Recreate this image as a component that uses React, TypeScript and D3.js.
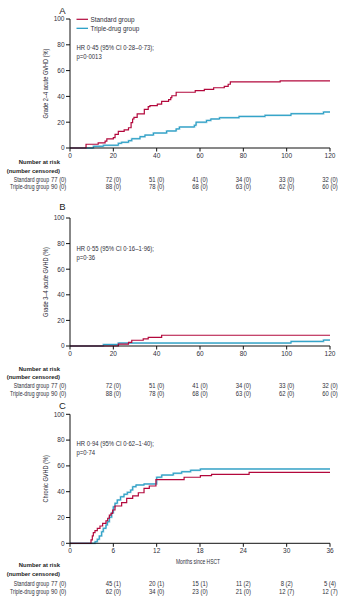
import React from "react";
import * as d3 from "d3";

const xTicksAB = [0, 20, 40, 60, 80, 100, 120];
const xTicksC = [0, 6, 12, 18, 24, 30, 36];
const yTicks = [0, 20, 40, 60, 80, 100];

const standardA: [number, number][] = [
  [7.4, 2.9], [13, 3.9], [16.2, 5.4], [17, 7], [20, 8], [20.8, 10.6], [22.3, 12.9],
  [25, 14], [27, 15.7], [28.2, 19.6], [28.9, 22.5], [29.5, 23.8], [31, 26.4],
  [34.3, 30], [36.1, 32], [36.9, 32.8], [40.3, 34], [42.3, 36.2], [45.5, 37.5],
  [46.5, 39], [47, 40.5], [49, 43.2], [57.8, 44.4], [62, 45.5], [66.3, 46.7],
  [71.2, 47.8], [73, 49.4], [74, 51.2], [97, 52],
];
const tripleA: [number, number][] = [
  [10.8, 1.3], [15.4, 2.1], [22.3, 3.6], [23.8, 4.4], [27, 5.7], [28.5, 7.2],
  [32.3, 8.8], [34.6, 10], [38.5, 11.6], [44.6, 13.2], [49, 14.8], [50.5, 16.3],
  [57.4, 17.6], [58.2, 20], [63, 21.4], [65, 22.5], [69, 23.5], [78, 24.5],
  [90, 25.3], [102, 26.6], [117, 27.9],
];
const standardB: [number, number][] = [
  [22.3, 1.5], [27, 2.8], [28.5, 4.5], [33.8, 5.5], [36.1, 6.8], [42.3, 8.4],
];
const tripleB: [number, number][] = [
  [15.4, 1.1], [22.3, 2.3], [102, 3.6], [117, 4.6],
];
const standardC: [number, number][] = [
  [2.91, 2.6], [3.09, 5.7], [3.23, 8.3], [3.46, 9.8], [3.78, 11.6], [4.15, 13.4],
  [4.52, 15.5], [4.98, 17.5], [5.22, 19.4], [5.45, 21.9], [5.68, 23.2], [5.91, 25.8],
  [6.23, 28.9], [7.15, 31.5], [7.85, 34.9], [8.68, 36.7], [9.46, 39.2], [10.25, 42.6],
  [10.98, 44.4], [11.9, 49.4], [15.8, 51.2], [18.05, 52.4], [19.6, 53.5], [24.8, 55],
];
const tripleC: [number, number][] = [
  [3.46, 1.2], [3.78, 3.1], [4.06, 5.7], [4.38, 9], [4.61, 11.6], [4.98, 14.2],
  [5.17, 16.7], [5.45, 20.2], [5.77, 23.7], [6.0, 28.4], [6.23, 31], [6.55, 33.6],
  [7.0, 36.1], [7.48, 38], [7.94, 39.5], [8.4, 41.3], [8.68, 43.9], [9.14, 45.2],
  [10.25, 46], [12.0, 51.2], [12.7, 52.9], [14.3, 54.3], [15.46, 55.5], [16.7, 56.6],
  [18.05, 57.6],
];

const riskStdAB = ["77 (0)", "72 (0)", "51 (0)", "41 (0)", "34 (0)", "33 (0)", "32 (0)"];
const riskTriAB = ["90 (0)", "88 (0)", "78 (0)", "68 (0)", "63 (0)", "62 (0)", "60 (0)"];
const riskStdC = ["77 (0)", "45 (1)", "20 (1)", "15 (1)", "11 (2)", "8 (2)", "5 (4)"];
const riskTriC = ["90 (0)", "62 (0)", "34 (0)", "23 (0)", "21 (0)", "12 (7)", "12 (7)"];

const groupNames = ["Standard group", "Triple-drug group"];

const FONT = "'Liberation Sans', Arial, sans-serif";
const RED = "#b3083c";
const TEAL = "#1898c2";
const TEAL_HALO = "#a5d3e4";
const TXT = "#2f2f3a";

function T(props: {
  x: number;
  y: number;
  size: number;
  sx?: number;
  anchor?: string;
  weight?: string;
  fill?: string;
  rotate?: number;
  children: React.ReactNode;
}) {
  const sx = props.sx ?? 1;
  const rot = props.rotate ? ` rotate(${props.rotate})` : "";
  return (
    <text
      transform={`translate(${props.x},${props.y})${rot} scale(${sx},1)`}
      fontSize={props.size}
      textAnchor={props.anchor || "start"}
      fontWeight={props.weight || "normal"}
      fill={props.fill || TXT}
    >
      {props.children}
    </text>
  );
}

type PanelProps = {
  letter: string;
  letterY: number;
  yTop: number;
  yBottom: number;
  xTicks: number[];
  xMax: number;
  yLabel: string;
  hr: string[];
  hrY: number;
  std: [number, number][];
  tri: [number, number][];
  legend?: boolean;
  riskStd: string[];
  riskTri: string[];
  riskY: number[];
  xTitle?: string;
};

function Panel(p: PanelProps) {
  const x = d3.scaleLinear().domain([0, p.xMax]).range([70, 330]);
  const y = d3.scaleLinear().domain([0, 100]).range([p.yBottom, p.yTop]);
  const line = d3
    .line<[number, number]>()
    .x((d) => x(d[0]))
    .y((d) => y(d[1]))
    .curve(d3.curveStepAfter);
  const full = (data: [number, number][]) =>
    [[0, 0] as [number, number], ...data, [p.xMax, data[data.length - 1][1]] as [number, number]];
  const stdPath = line(full(p.std)) || "";
  const triPath = line(full(p.tri)) || "";
  const midY = (p.yTop + p.yBottom) / 2;
  return (
    <g fontFamily={FONT}>
      <T x={62.5} y={p.letterY} size={9.5} anchor="middle" fill="#222">{p.letter}</T>
      {/* curves */}
      <path d={triPath} fill="none" stroke={TEAL_HALO} strokeWidth={2} />
      <path d={triPath} fill="none" stroke={TEAL} strokeWidth={0.9} />
      <path d={stdPath} fill="none" stroke={RED} strokeWidth={1.2} />
      {/* axes */}
      <line x1={70} x2={70} y1={p.yTop} y2={p.yBottom} stroke="#111" strokeWidth={1} />
      <line x1={70} x2={330} y1={p.yBottom} y2={p.yBottom} stroke="#111" strokeWidth={1} />
      {yTicks.map((t) => (
        <g key={"y" + t}>
          <line x1={66} x2={70} y1={y(t)} y2={y(t)} stroke="#111" strokeWidth={1} />
          <T x={64.5} y={y(t) + 2.3} size={6.5} anchor="end">{t}</T>
        </g>
      ))}
      {p.xTicks.map((t) => (
        <g key={"x" + t}>
          <line x1={x(t)} x2={x(t)} y1={p.yBottom} y2={p.yBottom + 3.5} stroke="#111" strokeWidth={1} />
          <T x={x(t)} y={p.yBottom + 10} size={6.5} anchor="middle">{t}</T>
        </g>
      ))}
      <T x={47.5} y={midY} rotate={-90} size={6.4} sx={0.88} anchor="middle">{p.yLabel}</T>
      {p.hr.map((s, i) => (
        <T key={s} x={76.5} y={p.hrY + i * 9.5} size={6.6} sx={0.9}>{s}</T>
      ))}
      {p.legend && (
        <g>
          <line x1={76.5} x2={88} y1={19.3} y2={19.3} stroke={RED} strokeWidth={1.2} />
          <T x={90.5} y={21.6} size={6.4}>{groupNames[0]}</T>
          <line x1={76.5} x2={88} y1={28.3} y2={28.3} stroke={TEAL} strokeWidth={1.2} />
          <T x={90.5} y={30.6} size={6.4}>{groupNames[1]}</T>
        </g>
      )}
      {p.xTitle && (
        <T x={198} y={564.3} size={6.4} sx={0.78} anchor="middle">{p.xTitle}</T>
      )}
      {/* number at risk */}
      <T x={60} y={p.riskY[0]} size={6.2} sx={0.95} weight="bold" anchor="end" fill="#222">Number at risk</T>
      <T x={60} y={p.riskY[1]} size={6.2} sx={0.95} weight="bold" anchor="end" fill="#222">(number censored)</T>
      {[p.riskStd, p.riskTri].map((row, ri) => (
        <g key={"r" + ri}>
          <T x={49} y={p.riskY[2 + ri]} size={6.4} sx={0.8} anchor="end">{groupNames[ri]}</T>
          {row.map((v, i) => (
            <T
              key={i}
              x={i === 0 ? 51 : x(p.xTicks[i])}
              y={p.riskY[2 + ri]}
              size={6.4}
              sx={0.92}
              anchor={i === 0 ? "start" : "middle"}
            >
              {v}
            </T>
          ))}
        </g>
      ))}
    </g>
  );
}

export default function App() {
  return (
    <div style={{ position: "absolute", left: 0, top: 0 }}>
      <svg width={342} height={598} style={{ display: "block", background: "#fff" }}>
        <Panel
          letter="A"
          letterY={13.5}
          yTop={19}
          yBottom={148}
          xTicks={xTicksAB}
          xMax={120}
          yLabel="Grade 2–4 acute GVHD (%)"
          hr={["HR 0·45 (95% CI 0·28–0·73);", "p=0·0013"]}
          hrY={49.6}
          std={standardA}
          tri={tripleA}
          legend
          riskStd={riskStdAB}
          riskTri={riskTriAB}
          riskY={[164, 173, 182, 188.5]}
        />
        <Panel
          letter="B"
          letterY={210}
          yTop={218}
          yBottom={346}
          xTicks={xTicksAB}
          xMax={120}
          yLabel="Grade 3–4 acute GVHD (%)"
          hr={["HR 0·55 (95% CI 0·16–1·96);", "p=0·36"]}
          hrY={250.5}
          std={standardB}
          tri={tripleB}
          riskStd={riskStdAB}
          riskTri={riskTriAB}
          riskY={[370.5, 379, 388, 395.5]}
        />
        <Panel
          letter="C"
          letterY={408.5}
          yTop={414.3}
          yBottom={543.3}
          xTicks={xTicksC}
          xMax={36}
          yLabel="Chronic GVHD (%)"
          hr={["HR 0·94 (95% CI 0·62–1·40);", "p=0·74"]}
          hrY={445.5}
          std={standardC}
          tri={tripleC}
          riskStd={riskStdC}
          riskTri={riskTriC}
          riskY={[567, 575.5, 585.5, 594]}
          xTitle="Months since HSCT"
        />
      </svg>
    </div>
  );
}
